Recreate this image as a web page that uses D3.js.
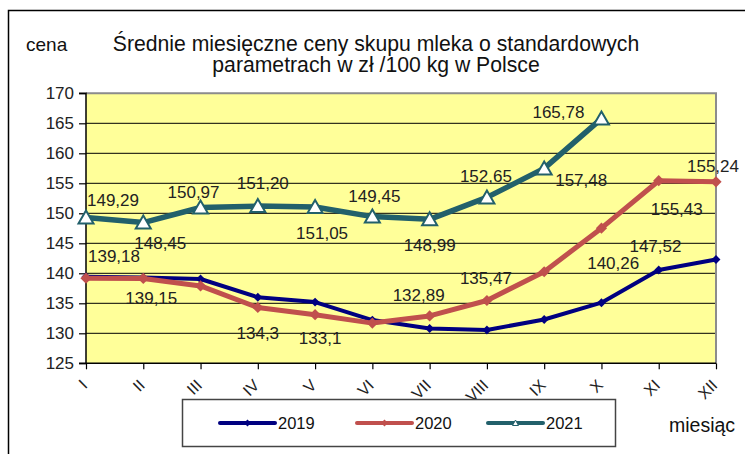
<!DOCTYPE html>
<html><head><meta charset="utf-8">
<script src="https://cdn.jsdelivr.net/npm/d3@7"></script>
<style>
body{margin:0;background:#fff;}
svg{display:block;font-family:"Liberation Sans",Arial,sans-serif;}
</style></head>
<body><svg id="c" width="745" height="454"></svg>
<script>
const months = ["I","II","III","IV","V","VI","VII","VIII","IX","X","XI","XII"];
const yTicks = [125,130,135,140,145,150,155,160,165,170];
const values2019 = [139.43,139.3,139.05,136.0,135.2,132.2,130.8,130.55,132.3,135.1,140.55,142.3];
const values2020 = [139.18,139.15,137.9,134.3,133.1,131.7,132.89,135.47,140.26,147.52,155.43,155.24];
const values2021 = [149.29,148.45,150.97,151.20,151.05,149.45,148.99,152.65,157.48,165.78];
const labels2020 = ["139,18","139,15",null,"134,3","133,1",null,"132,89","135,47","140,26","147,52","155,43","155,24"];
const labels2021 = ["149,29","148,45","150,97","151,20","151,05","149,45","148,99","152,65","157,48","165,78"];
const seriesNames = ["2019","2020","2021"];
// label offsets (style): [dx, dy] from the point to label centre/baseline
const off2020 = [[28,-16],[8,26],null,[0,31],[5,29],null,[-11,-15],[-1,-16],[69,-3],[54,24],[18,34],[-3,-10]];
const off2021 = [[27,-12],[17,26],[-7,-9],[5,-17],[7,32],[2,-15],[0,32],[-1,-15],[37,18],[-43,-1]];

const svg = d3.select("#c");
const L = 86, R = 716, T = 93.3, B = 363.3;
const x = d3.scalePoint().domain(months).range([L, R]).padding(0);
const y = d3.scaleLinear().domain([125,170]).range([B, T]);

// outer frame
svg.append("rect").attr("x",8.5).attr("y",10.5).attr("width",800).attr("height",500)
  .attr("fill","#fff").attr("stroke","#000").attr("stroke-width",1.5);

// plot area
svg.append("rect").attr("x",L).attr("y",T).attr("width",R-L).attr("height",B-T)
  .attr("fill","#FFFF99");
// gridlines
svg.append("g").selectAll("line").data(yTicks.filter(t=>t>125 && t<170)).join("line")
  .attr("x1",L).attr("x2",R).attr("y1",d=>y(d)).attr("y2",d=>y(d))
  .attr("stroke","#000").attr("stroke-width",1);
// top/right border gray
svg.append("path").attr("d",`M${L},${T}H${R}V${B}`).attr("fill","none")
  .attr("stroke","#8c8c8c").attr("stroke-width",2);

// axes
const ya = svg.append("g").attr("transform",`translate(${L},0)`)
  .call(d3.axisLeft(y).tickValues(yTicks).tickSize(7).tickPadding(5).tickFormat(d3.format("d")));
ya.select(".domain").attr("stroke","#000").attr("stroke-width",1.5).attr("d",`M-7,${T}H0V${B}H-7`);
ya.selectAll(".tick line").attr("stroke","#000").attr("stroke-width",1.2);
ya.selectAll(".tick text").attr("font-size",17).attr("fill","#222")
  .attr("font-family","Liberation Sans, Arial, sans-serif");

const xa = svg.append("g").attr("transform",`translate(0,${B})`)
  .call(d3.axisBottom(x).tickSize(6).tickPadding(0));
xa.select(".domain").attr("stroke","#000").attr("stroke-width",1.5).attr("d",`M${L},0H${R}`);
xa.selectAll(".tick line").attr("stroke","#000").attr("stroke-width",1.2);
xa.selectAll(".tick text").attr("font-size",16).attr("fill","#222")
  .attr("font-family","Liberation Sans, Arial, sans-serif")
  .attr("text-anchor","end").attr("dy",null).attr("y",null)
  .attr("transform","translate(2,23) rotate(-45)");

// lines
const line = d3.line().x((d,i)=>x(months[i])).y(d=>y(d));
const cols = {"2019":"#000080","2020":"#C0504D","2021":"#22606B"};
svg.append("path").datum(values2019).attr("d",line).attr("fill","none")
  .attr("stroke",cols["2019"]).attr("stroke-width",4).attr("stroke-linejoin","round");
svg.append("g").selectAll("path").data(values2019).join("path")
  .attr("d",d3.symbol(d3.symbolDiamond2,50)).attr("fill",cols["2019"])
  .attr("transform",(d,i)=>`translate(${x(months[i])},${y(d)})`);

svg.append("path").datum(values2020).attr("d",line).attr("fill","none")
  .attr("stroke",cols["2020"]).attr("stroke-width",5).attr("stroke-linejoin","round");
svg.append("g").selectAll("path").data(values2020).join("path")
  .attr("d",d3.symbol(d3.symbolDiamond2,80)).attr("fill",cols["2020"])
  .attr("transform",(d,i)=>`translate(${x(months[i])},${y(d)})`);

svg.append("path").datum(values2021).attr("d",line).attr("fill","none")
  .attr("stroke",cols["2021"]).attr("stroke-width",5.5).attr("stroke-linejoin","round");
svg.append("g").selectAll("path").data(values2021).join("path")
  .attr("d","M0,-7L7.5,6L-7.5,6Z").attr("fill","#fff").attr("stroke",cols["2021"]).attr("stroke-width",2)
  .attr("transform",(d,i)=>`translate(${x(months[i])},${y(d)})`);

// data labels
function addLabels(vals, labels, offs){
  svg.append("g").selectAll("text").data(vals.map((v,i)=>({v,i})).filter(d=>labels[d.i]))
    .join("text")
    .attr("x",d=>x(months[d.i])+offs[d.i][0]).attr("y",d=>y(d.v)+offs[d.i][1])
    .attr("text-anchor","middle").attr("font-size",17).attr("fill","#222")
    .text(d=>labels[d.i]);
}
addLabels(values2020, labels2020, off2020);
addLabels(values2021, labels2021, off2021);

// titles
svg.append("text").attr("x",376).attr("y",51).attr("text-anchor","middle").attr("font-size",21.2).attr("fill","#111")
  .text("Średnie miesięczne ceny skupu mleka o standardowych");
svg.append("text").attr("x",376).attr("y",72).attr("text-anchor","middle").attr("font-size",21.2).attr("fill","#111")
  .text("parametrach w zł /100 kg w Polsce");
svg.append("text").attr("x",26).attr("y",51).attr("font-size",19).attr("fill","#111").text("cena");
svg.append("text").attr("x",669).attr("y",432).attr("font-size",19.5).attr("fill","#111").text("miesiąc");

// legend
const lg = svg.append("g");
lg.append("rect").attr("x",182.5).attr("y",399.5).attr("width",433).attr("height",47)
  .attr("fill","#fff").attr("stroke","#444").attr("stroke-width",1.5);
const legX = [220, 357, 488];
seriesNames.forEach((s,i)=>{
  const g = lg.append("g").attr("transform",`translate(${legX[i]},423)`);
  g.append("line").attr("x1",0).attr("x2",55).attr("stroke",cols[s]).attr("stroke-width",4).attr("stroke-linecap","round");
  if(i<2) g.append("path").attr("d",d3.symbol(d3.symbolDiamond2,30)).attr("fill",cols[s]).attr("transform","translate(27.5,0)");
  else g.append("path").attr("d","M0,-3L3,2.5L-3,2.5Z").attr("fill","#fff").attr("stroke",cols[s]).attr("stroke-width",1).attr("transform","translate(27.5,0)");
  g.append("text").attr("x",58).attr("y",6).attr("font-size",16.5).attr("fill","#111").text(s);
});
</script></body></html>
